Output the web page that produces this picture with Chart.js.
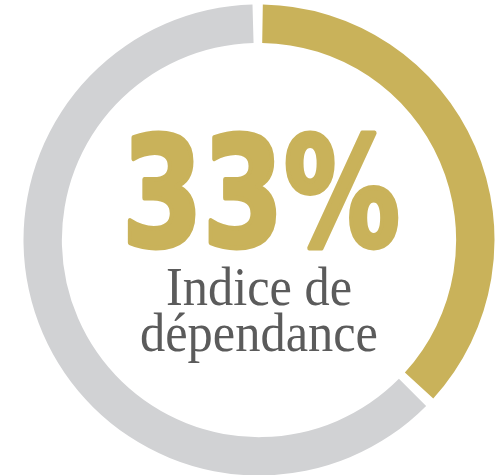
<!DOCTYPE html>
<html>
<head>
<meta charset="utf-8">
<script src="https://cdn.jsdelivr.net/npm/chart.js@4"></script>
<style>
  body { margin: 0; background: #fff; }
  #wrap { width: 497px; height: 475px; position: relative; }
</style>
</head>
<body>
<div id="wrap"><canvas id="donut"></canvas></div>
<script>
const labels = ["Indice de dépendance", "Reste"];
const values = [37, 63];
const colors = ["#C9B25A", "#D1D2D4"];
const bigLabel = "33%";
const subLines = ["Indice de", "dépendance"];

// draws the big percentage + caption in the hole
const centerText = {
  id: "centerText",
  afterDraw(chart) {
    const arc = chart.getDatasetMeta(0).data[0];
    const cx = arc.x, cy = arc.y;
    const c = chart.ctx;
    c.save();
    c.textAlign = "center";
    c.textBaseline = "alphabetic";

    c.font = "bold 152px 'DejaVu Sans'";
    c.fillStyle = colors[0];
    c.strokeStyle = colors[0];
    c.lineWidth = 5;
    c.lineJoin = "round";
    let w = c.measureText(bigLabel).width;
    c.save();
    c.translate(cx + 2, cy + 6);
    c.scale(278 / w, 1);
    c.fillText(bigLabel, 0, 0);
    c.strokeText(bigLabel, 0, 0);
    c.restore();

    c.font = "54px 'Liberation Serif'";
    c.fillStyle = "#5B5B5B";
    const widths = [186, 238];
    const offs = [65, 111];
    subLines.forEach((t, i) => {
      const tw = c.measureText(t).width;
      c.save();
      c.translate(cx, cy + offs[i]);
      c.scale(widths[i] / tw, 1);
      c.fillText(t, 0, 0);
      c.restore();
    });
    c.restore();
  }
};

new Chart(document.getElementById("donut"), {
  type: "doughnut",
  data: {
    labels: labels,
    datasets: [
      {
        data: values,
        backgroundColor: colors,
        borderWidth: 0,
        spacing: 6,
        radius: 232.5,
      },
    ],
  },
  options: {
    responsive: true,
    maintainAspectRatio: false,
    animation: false,
    cutout: "83.5%",
    layout: {
      padding: { left: 26, right: 5, top: 7.5, bottom: 2.5 },
    },
    plugins: {
      legend: { display: false },
      tooltip: { enabled: false },
    },
  },
  plugins: [centerText],
});
</script>
</body>
</html>
